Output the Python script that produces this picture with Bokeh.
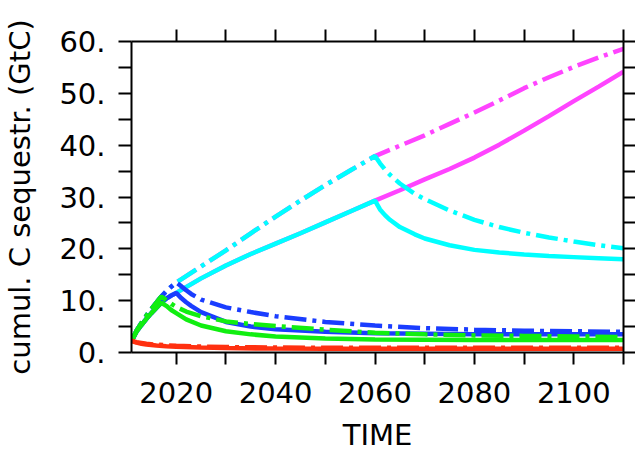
from bokeh.plotting import figure
from bokeh.models import LinearAxis, FixedTicker, Range1d
from bokeh.embed import file_html
from bokeh.resources import INLINE

# ---------------- data ----------------
ramp_years = [2011, 2012, 2013, 2014, 2015, 2016, 2017, 2018, 2019, 2020,
              2025, 2030, 2035, 2040, 2045, 2050, 2055, 2060,
              2065, 2070, 2075, 2080, 2085, 2090, 2095, 2100, 2105, 2110]
ramp_solid = [2.2, 4.0, 5.3, 6.5, 7.6, 8.6, 9.6, 10.4, 11.0, 11.5,
              14.3, 16.8, 19.0, 21.0, 23.0, 25.1, 27.2, 29.3,
              31.3, 33.4, 35.4, 37.6, 40.1, 42.8, 45.6, 48.5, 51.3, 54.2]
ramp_dashdot = [2.2, 4.2, 5.7, 7.1, 8.4, 9.6, 10.8, 11.8, 12.7, 13.5,
                16.6, 19.7, 23.0, 26.2, 29.3, 32.3, 35.1, 37.9,
                39.9, 41.9, 44.1, 46.3, 48.6, 51.0, 53.1, 55.1, 56.9, 58.6]

cyan_stop = 2060
cyan_years = [2061, 2062, 2063, 2065, 2068, 2070, 2075, 2080, 2085, 2090, 2095, 2100, 2105, 2110]
cyan_solid = [27.6, 26.5, 25.6, 24.2, 22.8, 22.0, 20.7, 19.8, 19.3, 18.9, 18.6, 18.4, 18.2, 18.0]
cyan_dashdot = [36.5, 35.3, 34.3, 32.6, 30.6, 29.6, 27.4, 25.6, 24.2, 23.1, 22.2, 21.4, 20.7, 20.1]

blue_stop = 2020
blue_years = [2021, 2022, 2023, 2025, 2030, 2035, 2040, 2050, 2060, 2070, 2080, 2090, 2100, 2110]
blue_solid = [10.5, 9.7, 9.0, 7.8, 5.9, 5.0, 4.5, 4.0, 3.7, 3.6, 3.5, 3.5, 3.5, 3.5]
blue_dashdot = [12.8, 12.0, 11.3, 10.2, 8.7, 7.8, 7.0, 5.9, 5.2, 4.7, 4.4, 4.2, 4.1, 4.0]

green_stop = 2017
green_years = [2018, 2019, 2020, 2022, 2025, 2030, 2035, 2040, 2050, 2060, 2070, 2080, 2090, 2100, 2110]
green_solid = [9.0, 8.2, 7.6, 6.4, 5.2, 4.1, 3.5, 3.1, 2.7, 2.5, 2.45, 2.4, 2.4, 2.4, 2.4]
green_dashdot = [10.1, 9.4, 8.8, 7.9, 7.0, 6.0, 5.5, 5.1, 4.4, 3.8, 3.5, 3.3, 3.2, 3.1, 3.0]

red_years = [2011, 2012, 2013, 2014, 2016, 2018, 2020, 2025, 2030, 2040, 2050, 2060, 2080, 2100, 2110]
red_solid = [2.2, 1.9, 1.7, 1.55, 1.35, 1.2, 1.1, 0.95, 0.85, 0.75, 0.7, 0.7, 0.7, 0.7, 0.7]
red_dashdot = [2.3, 2.0, 1.85, 1.7, 1.5, 1.4, 1.3, 1.15, 1.05, 0.95, 0.9, 0.9, 0.9, 0.9, 0.9]

x_ticks = [2020, 2040, 2060, 2080, 2100]
x_minor_ticks = [2030, 2050, 2070, 2090, 2110]
y_ticks = [0, 10, 20, 30, 40, 50, 60]
y_tick_labels = ["0.", "10.", "20.", "30.", "40.", "50.", "60."]
y_minor_ticks = [5, 15, 25, 35, 45, 55]

x_title = "TIME"
y_title = "cumul. C sequestr. (GtC)"

# ---------------- styles ----------------
FONT = "DejaVu Sans"
FS = "29px"
DASHDOT = "22 6 4 6"
LW = 4.5
C_MAG = "#FF44FF"
C_CYAN = "#00FFFF"
C_BLUE = "#1A3DFF"
C_GREEN = "#11EE11"
C_RED = "#FF3010"

p = figure(width=635, height=454, x_range=Range1d(2011, 2110), y_range=Range1d(0, 60),
           output_backend="svg", toolbar_location=None,
           min_border_left=131, min_border_right=12, min_border_top=41, min_border_bottom=96,
           x_axis_location=None, y_axis_location=None)
p.outline_line_color = None
p.xgrid.visible = False
p.ygrid.visible = False
p.background_fill_color = "white"
p.border_fill_color = "white"


def ramp_until(stop, vals):
    xs = [y for y in ramp_years if y <= stop]
    return xs, vals[:len(xs)]


# magenta: full ramp
p.line(ramp_years, ramp_solid, line_color=C_MAG, line_width=LW)
p.line(ramp_years, ramp_dashdot, line_color=C_MAG, line_width=LW, line_dash=DASHDOT)

# cyan
xs, ys = ramp_until(cyan_stop, ramp_solid)
p.line(xs + cyan_years, ys + cyan_solid, line_color=C_CYAN, line_width=LW)
xs, ys = ramp_until(cyan_stop, ramp_dashdot)
p.line(xs + cyan_years, ys + cyan_dashdot, line_color=C_CYAN, line_width=LW, line_dash=DASHDOT)

# blue
xs, ys = ramp_until(blue_stop, ramp_solid)
p.line(xs + blue_years, ys + blue_solid, line_color=C_BLUE, line_width=LW)
xs, ys = ramp_until(blue_stop, ramp_dashdot)
p.line(xs + blue_years, ys + blue_dashdot, line_color=C_BLUE, line_width=LW, line_dash=DASHDOT)

# green
xs, ys = ramp_until(green_stop, ramp_solid)
p.line(xs + green_years, ys + green_solid, line_color=C_GREEN, line_width=LW)
xs, ys = ramp_until(green_stop, ramp_dashdot)
p.line(xs + green_years, ys + green_dashdot, line_color=C_GREEN, line_width=LW, line_dash=DASHDOT)

# red
p.line(red_years, red_solid, line_color=C_RED, line_width=LW)
p.line(red_years, red_dashdot, line_color=C_RED, line_width=LW, line_dash=DASHDOT)


def style_axis(ax, tick_out):
    ax.axis_line_width = 2
    ax.axis_line_color = "black"
    ax.major_tick_line_width = 2
    ax.minor_tick_line_width = 2
    ax.major_tick_in = 0
    ax.minor_tick_in = 0
    ax.major_tick_out = tick_out
    ax.minor_tick_out = tick_out
    ax.major_tick_line_color = "black"
    ax.minor_tick_line_color = "black"
    ax.major_label_text_font = FONT
    ax.major_label_text_font_size = FS
    ax.major_label_text_color = "black"
    ax.axis_label_text_font = FONT
    ax.axis_label_text_font_size = FS
    ax.axis_label_text_font_style = "normal"
    ax.axis_label_text_color = "black"


xb = LinearAxis(ticker=FixedTicker(ticks=x_ticks, minor_ticks=x_minor_ticks), axis_label=x_title)
style_axis(xb, 12)
xb.major_label_standoff = 17
xb.axis_label_standoff = 12
p.add_layout(xb, "below")

# top: tick marks only (all as minor ticks, so no labels)
xt = LinearAxis(ticker=FixedTicker(ticks=[], minor_ticks=x_ticks + x_minor_ticks))
style_axis(xt, 12)
p.add_layout(xt, "above")

yl = LinearAxis(ticker=FixedTicker(ticks=y_ticks, minor_ticks=y_minor_ticks), axis_label=y_title)
style_axis(yl, 13)
yl.major_label_standoff = 13
yl.axis_label_standoff = 19
yl.major_label_overrides = dict(zip(y_ticks, y_tick_labels))
p.add_layout(yl, "left")

yr = LinearAxis(ticker=FixedTicker(ticks=[], minor_ticks=y_ticks + y_minor_ticks))
style_axis(yr, 12)
p.add_layout(yr, "right")

open("out.html", "w").write(file_html(p, INLINE))
